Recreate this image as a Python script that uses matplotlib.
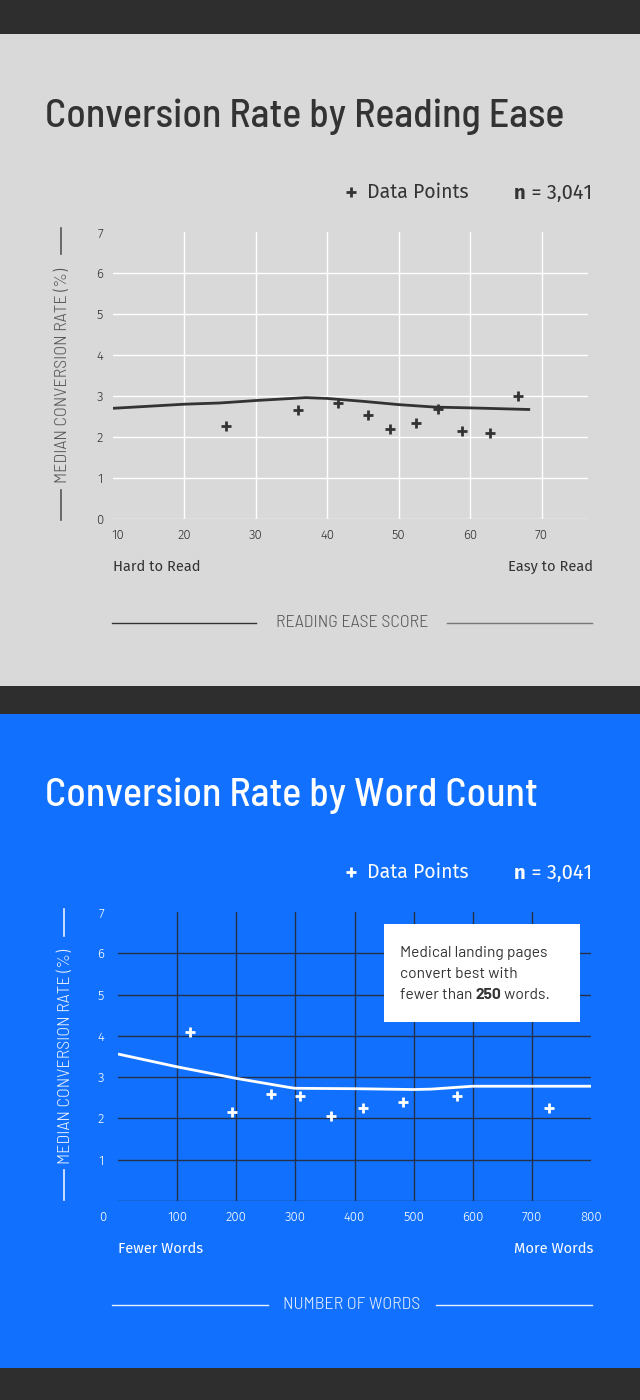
import matplotlib
matplotlib.use("Agg")
import matplotlib.pyplot as plt
from matplotlib.lines import Line2D
from matplotlib.patches import Rectangle
import matplotlib.transforms as mtransforms

# data
ease_x = [25.8, 35.9, 41.5, 45.7, 48.8, 52.4, 55.5, 58.9, 62.8, 66.7]
ease_y = [2.28, 2.67, 2.82, 2.53, 2.19, 2.33, 2.68, 2.14, 2.09, 3.01]
ease_trend_x = [10, 20, 25, 30, 37, 40, 45, 50, 55, 60, 68.4]
ease_trend_y = [2.70, 2.80, 2.83, 2.89, 2.96, 2.94, 2.87, 2.79, 2.73, 2.71, 2.67]
ease_ticks = [10, 20, 30, 40, 50, 60, 70]

words_x = [121, 192, 259, 307, 361, 414, 482, 574, 729]
words_y = [4.10, 2.16, 2.60, 2.54, 2.07, 2.26, 2.40, 2.54, 2.26]
words_trend_x = [0, 100, 200, 290, 300, 400, 500, 530, 590, 600, 800]
words_trend_y = [3.56, 3.25, 2.97, 2.75, 2.73, 2.72, 2.70, 2.71, 2.77, 2.78, 2.78]
words_ticks = [0, 100, 200, 300, 400, 500, 600, 700, 800]

rate_ticks = [0, 1, 2, 3, 4, 5, 6, 7]
sample_size = "3,041"

TITLE = ['Barlow Semi Condensed', 'Roboto']
BODY = ['Fira Sans', 'Roboto']
COND = ['Barlow Semi Condensed', 'Roboto Condensed', 'Roboto']
NOTE = ['Barlow', 'Roboto']

W, H = 640, 1400
fig = plt.figure(figsize=(W / 100, H / 100), dpi=100)
fig.patch.set_facecolor('#2e2e2e')


def fx(x):
    return x / W


def fy(y):
    return 1 - y / H


def rect(x0, y0, x1, y1, color, z=-1):
    fig.add_artist(Rectangle((fx(x0), fy(y1)), fx(x1 - x0), (y1 - y0) / H,
                             transform=fig.transFigure, facecolor=color,
                             edgecolor='none', zorder=z))


def hline(x0, x1, y, color, lw=1.0):
    fig.add_artist(Line2D([fx(x0), fx(x1)], [fy(y), fy(y)], transform=fig.transFigure,
                          color=color, lw=lw))


def vline(x, y0, y1, color, lw=1.0):
    fig.add_artist(Line2D([fx(x), fx(x)], [fy(y0), fy(y1)], transform=fig.transFigure,
                          color=color, lw=lw))


def runs(x, y, pieces, color, size, family, va='center', ha='left', z=3):
    # draw text pieces one after another, measuring each
    r = fig.canvas.get_renderer()
    widths = []
    arts = []
    for s, weight in pieces:
        t = fig.text(0, fy(y), s, fontsize=size, family=family, weight=weight,
                     color=color, va=va, ha='left', zorder=z)
        widths.append(t.get_window_extent(r).width)
        arts.append(t)
    total = sum(widths)
    cur = x - total if ha == 'right' else x
    for t, w in zip(arts, widths):
        t.set_x(fx(cur))
        cur += w


# background panels
rect(0, 34, W, 686, '#d9d9d9')
rect(0, 714, W, 1368, '#1171fe')


def panel(ax_box, xs, ys, tx, ty, xticks, xlim, fg, grid_c, vgrid, first_shift,
          title, title_y, legend_y, ylab_c, ylab_x, ylab_lines, low, high, xlab,
          xlab_y, xlab_lines, hide_y0):
    left, top, right, bottom = ax_box
    ax = fig.add_axes([fx(left), fy(bottom), fx(right - left), (bottom - top) / H])
    ax.patch.set_alpha(0)
    for s in ax.spines.values():
        s.set_visible(False)
    ax.set_xlim(*xlim)
    ax.set_ylim(0, 7)
    for v in rate_ticks[:-1]:
        ax.axhline(v, color=grid_c, lw=1.0, zorder=1)
    for v in vgrid:
        ax.axvline(v, color=grid_c, lw=1.0, zorder=1)
    ax.plot(tx, ty, color=fg, lw=2.0, zorder=3, solid_capstyle='butt')
    ax.plot(xs, ys, ls='none', marker='+', ms=7, mew=2.0, color=fg, zorder=4)

    ylabels = [str(v) for v in rate_ticks]
    if hide_y0:
        ylabels[0] = ''
    ax.set_yticks(rate_ticks, ylabels)
    ax.set_xticks(xticks, [str(v) for v in xticks])
    ax.tick_params(length=0, colors=fg, labelsize=9.5)
    ax.tick_params(axis='y', pad=7 if not hide_y0 else 10)
    ax.tick_params(axis='x', pad=7)
    for lab in ax.get_xticklabels() + ax.get_yticklabels():
        lab.set_family(BODY)
        lab.set_weight(300)
    first = ax.get_xticklabels()[0]
    first.set_transform(first.get_transform() +
                        mtransforms.ScaledTranslation(first_shift / 100, 0, fig.dpi_scale_trans))

    fig.text(fx(45), fy(title_y), title, fontsize=28.7, family=TITLE, weight=500,
             color=fg, va='baseline', ha='left')

    # legend line
    fig.add_artist(Line2D([fx(351)], [fy(legend_y)], transform=fig.transFigure,
                          marker='+', ms=7, mew=2.0, color=fg, ls='none'))
    fig.text(fx(367), fy(legend_y), 'Data Points', fontsize=14, family=BODY,
             color=fg, va='center', ha='left')
    runs(592, legend_y + 1, [('n', 'bold'), (' = ' + sample_size, 'normal')], fg, 14.5,
         BODY, ha='right')

    # y axis title with its two short rules
    yc = (top + bottom) / 2
    fig.text(fx(ylab_x), fy(yc), 'MEDIAN CONVERSION RATE (%)', rotation=90,
             fontsize=13, family=COND, weight=300, color=ylab_c, va='center', ha='center')
    for y0, y1 in ylab_lines:
        vline(ylab_x - 2, y0, y1, ylab_c, lw=1.2)

    # ends of the scale
    fig.text(fx(left), fy(bottom + 48), low, fontsize=10.5, family=BODY, color=fg,
             va='center', ha='left')
    fig.text(fx(593), fy(bottom + 48), high, fontsize=10.5, family=BODY, color=fg,
             va='center', ha='right')

    # x axis title with rules
    fig.text(fx(352), fy(xlab_y), xlab, fontsize=13, family=COND, weight=300,
             color=ylab_c, va='center', ha='center')
    for (x0, x1), c in xlab_lines:
        hline(x0, x1, xlab_y, c, lw=1.0)
    return ax


panel((113, 232, 588, 519), ease_x, ease_y, ease_trend_x, ease_trend_y, ease_ticks,
      (10, 76.5), '#333333', '#ffffff', ease_ticks[1:], 4.5,
      'Conversion Rate by Reading Ease', 127, 192, '#555555', 63,
      [(228, 254), (490, 520)], 'Hard to Read', 'Easy to Read',
      'READING EASE SCORE', 623, [((112, 256), '#333333'), ((447, 592), '#777777')],
      False)

ax2 = panel((118, 912, 591, 1201), words_x, words_y, words_trend_x, words_trend_y,
            words_ticks, (0, 800), '#ffffff', '#243049', words_ticks[1:-1], -15,
            'Conversion Rate by Word Count', 806, 872, '#e8f0ff', 66,
            [(909, 936), (1170, 1200)], 'Fewer Words', 'More Words',
            'NUMBER OF WORDS', 1305, [((112, 268), '#e8f0ff'), ((436, 592), '#e8f0ff')],
            True)

# note box on the word count chart
rect(384, 924, 580, 1022, '#ffffff', z=5)
note_lines = ['Medical landing pages', 'convert best with']
for i, s in enumerate(note_lines):
    fig.text(fx(400), fy(953 + 21 * i), s, fontsize=11.2, family=NOTE, color='#333333',
             va='center', ha='left', zorder=6)
runs(400, 995, [('fewer than ', 'normal'), ('250', 'bold'), (' words.', 'normal')],
     '#333333', 11.2, NOTE, z=6)

fig.savefig('out.png', dpi=100, facecolor=fig.get_facecolor())
